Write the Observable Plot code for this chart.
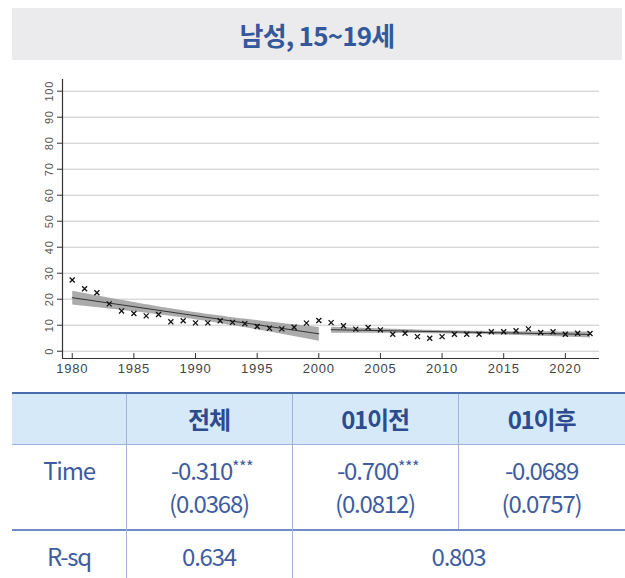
<!DOCTYPE html>
<html>
<head>
<meta charset="utf-8">
<script src="https://cdn.jsdelivr.net/npm/d3@7"></script>
<script src="https://cdn.jsdelivr.net/npm/@observablehq/plot@0.6"></script>
<style>
  html, body { margin: 0; padding: 0; background: #fff; }
  #page { position: relative; width: 625px; height: 578px; overflow: hidden; font-family: "Noto Sans CJK KR", "Noto Sans", sans-serif; }
  #title { position: absolute; left: 12px; top: 8px; width: 610px; height: 52px; background: #ebebee; z-index: 2;
    display: flex; align-items: center; justify-content: center; color: #34589c; font-size: 26px; font-weight: 700; letter-spacing: -0.8px; }
  #chart { position: absolute; left: 0; top: 0; z-index: 1; }
  #tbl { position: absolute; left: 0; top: 0; width: 625px; height: 578px; z-index: 2; pointer-events: none; }
  .blk { position: absolute; }
  .cell { position: absolute; transform: translate(-50%, -50%); white-space: nowrap; line-height: 1; color: #3e5c9f; font-size: 24px; letter-spacing: -1.2px; }
  .cell.h { color: #2c4c8e; font-weight: 700; }
  .stars { font-size: 16px; position: relative; top: -7px; letter-spacing: -0.5px; }
</style>
</head>
<body>
<div id="page">
  <div id="title"></div>
  <div id="chart"></div>
  <div id="tbl"></div>
</div>
<script>
const titleText = "남성, 15~19세";
const years = [1980,1981,1982,1983,1984,1985,1986,1987,1988,1989,1990,1991,1992,1993,1994,1995,1996,1997,1998,1999,2000,
               2001,2002,2003,2004,2005,2006,2007,2008,2009,2010,2011,2012,2013,2014,2015,2016,2017,2018,2019,2020,2021,2022];
const values = [27.4,24.0,22.5,18.2,15.5,14.5,13.6,14.1,11.3,11.7,10.9,10.9,11.7,11.1,10.6,9.5,8.8,8.6,9.2,10.8,11.8,
                11.0,9.8,8.5,9.1,8.2,6.5,6.9,5.6,5.0,5.6,6.5,6.5,6.5,7.5,7.5,7.9,8.6,7.2,7.5,6.5,6.9,6.8];
const breakYear = 2000;
const xTicks = [1980,1985,1990,1995,2000,2005,2010,2015,2020];
const yTicks = [0,10,20,30,40,50,60,70,80,90,100];

const colHeads = ["", "전체", "01이전", "01이후"];
const rowLabels = ["Time", "R-sq"];
const coefs = ["-0.310", "-0.700", "-0.0689"];
const stars = ["***", "***", ""];
const ses = ["(0.0368)", "(0.0812)", "(0.0757)"];
const rsq = ["0.634", "0.803"];

document.getElementById("title").textContent = titleText;

const data = years.map((y, i) => ({year: y, value: values[i]}));
const before = data.filter(d => d.year <= breakYear);
const after = data.filter(d => d.year > breakYear);

const xDomain = [1979.21, 2022.77];
const yDomain = [-2.8, 104.5];

const plot = Plot.plot({
  width: 625,
  height: 385,
  marginLeft: 62,
  marginRight: 26,
  marginTop: 79,
  marginBottom: 27,
  style: {background: "transparent", fontFamily: "'Liberation Sans', Arial, sans-serif"},
  x: {domain: xDomain, axis: null},
  y: {domain: yDomain, axis: null},
  marks: [
    Plot.ruleY(yTicks, {stroke: "#c9c9c9", strokeWidth: 1}),
    Plot.linearRegressionY(before, {x: "year", y: "value", ci: 0.95, stroke: "#333", strokeWidth: 1, fill: "#969696", fillOpacity: 0.8}),
    Plot.linearRegressionY(after, {x: "year", y: "value", ci: 0.95, stroke: "#333", strokeWidth: 1, fill: "#969696", fillOpacity: 0.8}),
    Plot.dot(data, {x: "year", y: "value", symbol: "times", r: 2.4, stroke: "#111", strokeWidth: 1.3}),
    Plot.ruleY([yDomain[0]], {stroke: "#333", strokeWidth: 1.2}),
    Plot.ruleX([xDomain[0]], {stroke: "#333", strokeWidth: 1.2}),
    Plot.ruleX(xTicks, {y1: yDomain[0], y2: yDomain[0] + 1.9, stroke: "#333"}),
    Plot.axisX({ticks: xTicks, tickSize: 0, tickPadding: 5, tickFormat: d => String(d), fontSize: 13, fill: "#444", label: null, stroke: "none"}),
    Plot.axisY({ticks: yTicks, tickSize: 5, tickPadding: 5, tickRotate: -90, fontSize: 11, fill: "#555", stroke: "#333", label: null})
  ]
});
plot.querySelectorAll("text").forEach(t => t.style.letterSpacing = "0.8px");
document.getElementById("chart").appendChild(plot);

// table drawn with positioned blocks
const tbl = document.getElementById("tbl");
function blk(x, y, w, h, bg) {
  const d = document.createElement("div"); d.className = "blk";
  Object.assign(d.style, {left: x + "px", top: y + "px", width: w + "px", height: h + "px", background: bg});
  tbl.appendChild(d);
}
function cell(cx, cy, html, cls) {
  const d = document.createElement("div"); d.className = "cell" + (cls ? " " + cls : "");
  d.style.left = cx + "px"; d.style.top = cy + "px"; d.innerHTML = html;
  tbl.appendChild(d);
}
const colEdges = [12, 126, 292, 458, 625];
const colCenters = colEdges.slice(0, -1).map((e, i) => (e + colEdges[i + 1]) / 2);
blk(12, 393, 613, 51, "#d6e9f8");
blk(12, 392, 613, 2, "#4a6cae");
blk(12, 444, 613, 1, "#9db3dc");
blk(12, 529, 613, 2, "#6f8cc6");
blk(125.5, 394, 1.5, 184, "#9fb4dc");
blk(291.5, 394, 1.5, 184, "#9fb4dc");
blk(457.5, 394, 1.5, 135, "#9fb4dc");

colHeads.forEach((h, i) => { if (h) cell(colCenters[i], 419, h, "h"); });
cell(colCenters[0], 470, rowLabels[0]);
coefs.forEach((v, i) => {
  cell(colCenters[i + 1] + (stars[i] ? 3 : 0), 470, v + (stars[i] ? '<span class="stars">' + stars[i] + '</span>' : ''));
  cell(colCenters[i + 1], 503, ses[i]);
});
cell(colCenters[0], 556, rowLabels[1]);
cell(colCenters[1], 556, rsq[0]);
cell((colEdges[2] + colEdges[4]) / 2, 556, rsq[1]);
</script>
</body>
</html>
